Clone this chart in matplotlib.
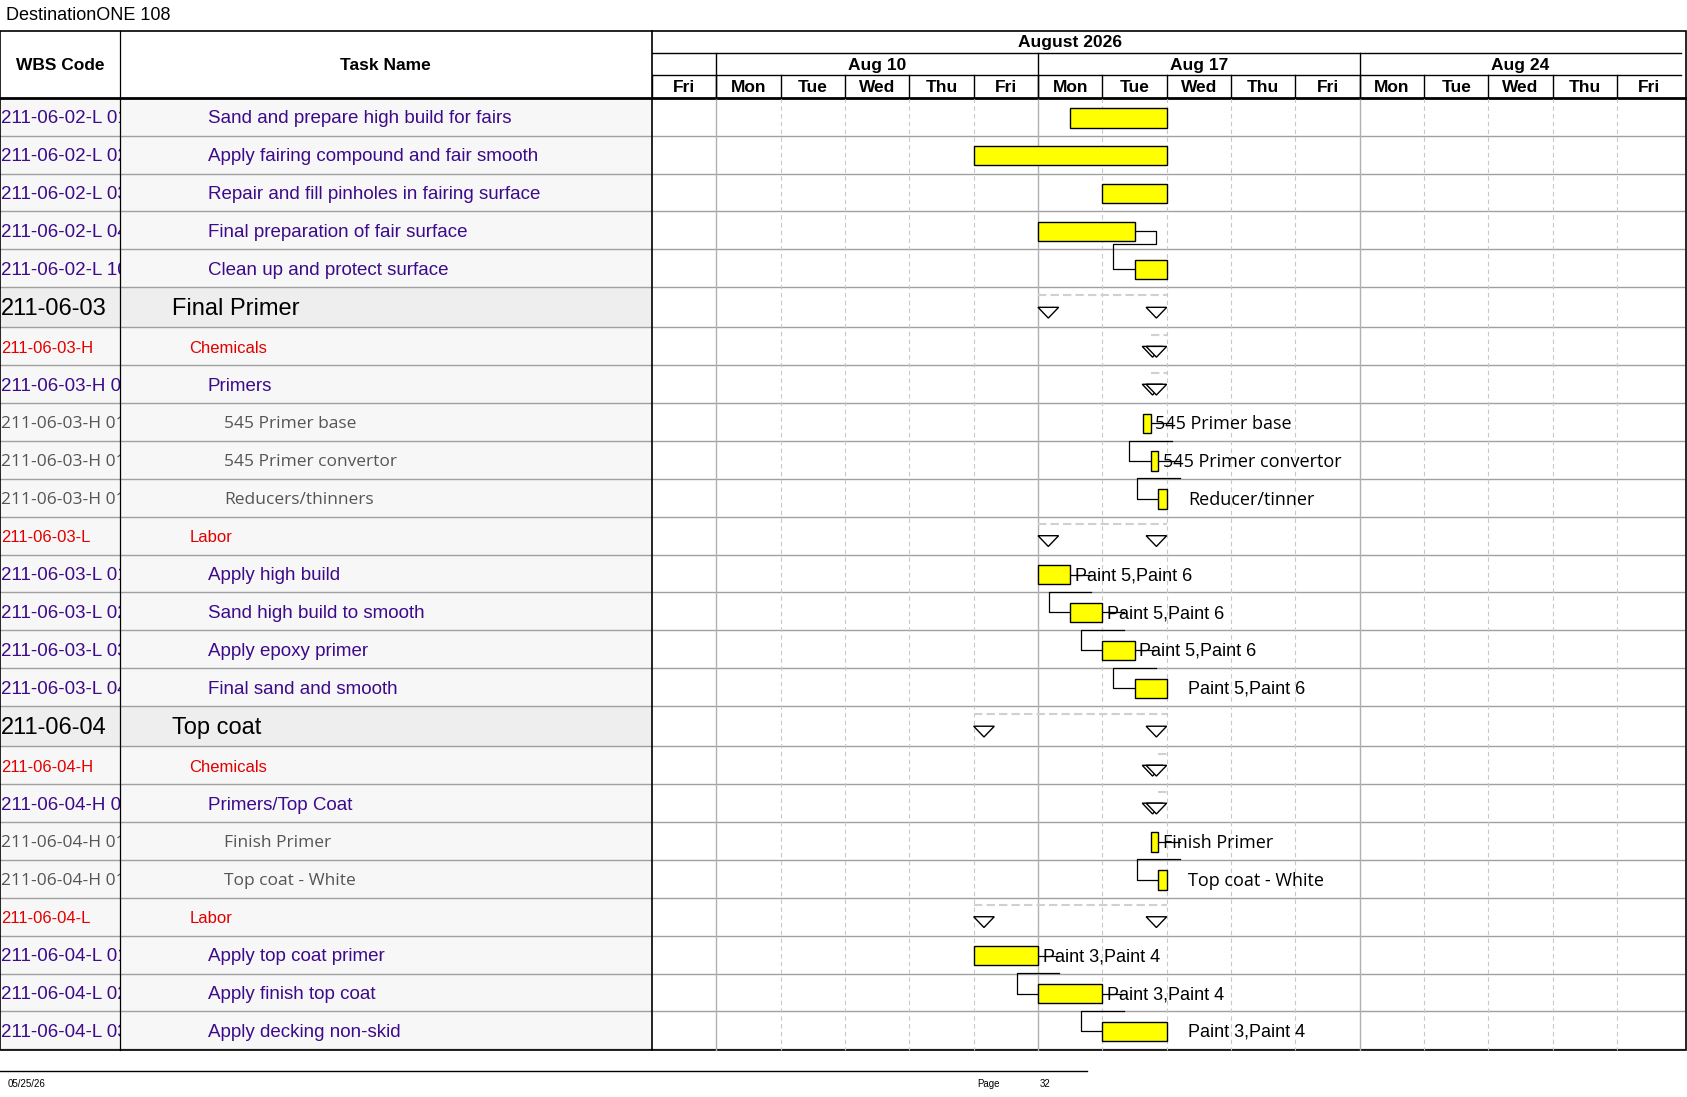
import matplotlib.pyplot as plt
from matplotlib.patches import Rectangle
from matplotlib.lines import Line2D

# ---- data ----
days = ["Fri", "Mon", "Tue", "Wed", "Thu", "Fri", "Mon", "Tue", "Wed", "Thu",
        "Fri", "Mon", "Tue", "Wed", "Thu", "Fri"]
weeks = [("Aug 10", 1, 6), ("Aug 17", 6, 11), ("Aug 24", 11, 16)]
month = "August 2026"

# kind: t=task, s=summary, c=red group, p=purple sub group, i=gray item
wbs = ["211-06-02-L 01", "211-06-02-L 02", "211-06-02-L 03", "211-06-02-L 04", "211-06-02-L 10",
       "211-06-03", "211-06-03-H", "211-06-03-H 01", "211-06-03-H 0101", "211-06-03-H 0102",
       "211-06-03-H 0103", "211-06-03-L", "211-06-03-L 01", "211-06-03-L 02", "211-06-03-L 03",
       "211-06-03-L 04", "211-06-04", "211-06-04-H", "211-06-04-H 01", "211-06-04-H 0101",
       "211-06-04-H 0102", "211-06-04-L", "211-06-04-L 01", "211-06-04-L 02", "211-06-04-L 03"]
names = ["Sand and prepare high build for fairs", "Apply fairing compound and fair smooth",
         "Repair and fill pinholes in fairing surface", "Final preparation of fair surface",
         "Clean up and protect surface", "Final Primer", "Chemicals", "Primers",
         "545 Primer base", "545 Primer convertor", "Reducers/thinners", "Labor",
         "Apply high build", "Sand high build to smooth", "Apply epoxy primer",
         "Final sand and smooth", "Top coat", "Chemicals", "Primers/Top Coat",
         "Finish Primer", "Top coat - White", "Labor", "Apply top coat primer",
         "Apply finish top coat", "Apply decking non-skid"]
kinds = ["t", "t", "t", "t", "t", "s", "c", "p", "i", "i", "i", "c", "t", "t", "t", "t",
         "s", "c", "p", "i", "i", "c", "t", "t", "t"]
# start / finish in working days from Fri Aug 7
starts = [6.5, 5, 7, 6, 7.5, 6, 7.75, 7.75, 7.63, 7.75, 7.87, 6, 6, 6.5, 7, 7.5,
          5, 7.87, 7.87, 7.75, 7.87, 5, 5, 6, 7]
ends = [8, 8, 8, 7.5, 8, 8, 8, 8, 7.75, 7.87, 8, 8, 6.5, 7, 7.5, 8,
        8, 8, 8, 7.87, 8, 8, 6, 7, 8]
labels = ["", "", "", "", "", "", "", "", "545 Primer base", "545 Primer convertor",
          "Reducer/tinner", "", "Paint 5,Paint 6", "Paint 5,Paint 6", "Paint 5,Paint 6",
          "Paint 5,Paint 6", "", "", "", "Finish Primer", "Top coat - White", "",
          "Paint 3,Paint 4", "Paint 3,Paint 4", "Paint 3,Paint 4"]
links = [(3, 4), (8, 9), (9, 10), (12, 13), (13, 14), (14, 15), (19, 20), (22, 23), (23, 24)]

# ---- layout (pixel units of a 1568x1020 canvas) ----
W, H = 1568, 1020
px = 59.8
g0 = 606
row_top = 91
heights = [37.5 if k == "s" else 35.2 for k in kinds]
tops = [row_top]
for h in heights:
    tops.append(tops[-1] + h)

fig = plt.figure(figsize=(16.87, 10.97), dpi=100)
ax = fig.add_axes([0, 0, 1, 1])
ax.set_xlim(0, W)
ax.set_ylim(H, 0)
ax.axis("off")
gx = fig.add_axes([g0 / W, 0, (1565 - g0) / W, 1])
gx.set_xlim(0, (1565 - g0) / px)
gx.set_ylim(H, 0)
gx.axis("off")

purple = "#3c0a8a"
ax.text(6, 14, "DestinationONE 108", fontsize=13, va="center", family="Liberation Sans")

has_succ = {a for a, b in links}

# row backgrounds + text
for i in range(len(names)):
    y0, y1 = tops[i], tops[i + 1]
    yc = (y0 + y1) / 2 + 2
    bg = "#eeeeee" if kinds[i] == "s" else "#f7f7f7"
    ax.add_patch(Rectangle((0, y0), g0, y1 - y0, color=bg, lw=0, zorder=0))
    # cover for WBS overflow
    ax.add_patch(Rectangle((112.5, y0), g0 - 112.5, y1 - y0, color=bg, lw=0, zorder=2))
    k = kinds[i]
    if k == "s":
        st = dict(color="black", fontsize=17, family="Liberation Sans"); x = 160
    elif k == "c":
        st = dict(color="#e00000", fontsize=12, family="Liberation Sans"); x = 176
    elif k == "i":
        st = dict(color="#555555", fontsize=12.5, family="Open Sans"); x = 208
    else:
        st = dict(color=purple, fontsize=13.5, family="Liberation Sans"); x = 193
    ax.text(1, yc, wbs[i], va="center", zorder=1, **st)
    ax.text(x, yc, names[i], va="center", zorder=3, **st)
    ax.add_line(Line2D([0, 1565], [y1, y1], color="#a0a0a0", lw=1, zorder=4))

# header
ax.add_patch(Rectangle((0, 29), 1567, 976 - 29, fill=False, ec="black", lw=1.2, zorder=5))
ax.plot([112, 112], [29, 976], color="black", lw=0.9, zorder=5)
ax.plot([g0, g0], [29, 976], color="black", lw=1.2, zorder=5)
ax.plot([0, 1567], [91, 91], color="black", lw=2, zorder=5)
ax.text(56, 61, "WBS Code", ha="center", va="center", fontsize=12.5, weight="bold", family="Liberation Sans")
ax.text(358, 61, "Task Name", ha="center", va="center", fontsize=12.5, weight="bold", family="Liberation Sans")
gx.plot([0, 16], [49, 49], color="black", lw=1)
gx.plot([0, 16], [70, 70], color="black", lw=1)
gx.text(6.5, 39.5, month, ha="center", va="center", fontsize=12.5, weight="bold", family="Liberation Sans")
for lab, a, b in weeks:
    gx.text((a + b) / 2, 60.5, lab, ha="center", va="center", fontsize=12.5, weight="bold", family="Liberation Sans")
    gx.plot([a, a], [49, 91], color="black", lw=1)
for d, lab in enumerate(days):
    gx.text(d + 0.5, 81.5, lab, ha="center", va="center", fontsize=12.5, weight="bold", family="Liberation Sans")
    gx.plot([d, d], [70, 91], color="black", lw=1)
    if d > 0:
        if lab == "Mon":
            gx.plot([d, d], [91, 976], color="#b0b0b0", lw=1, zorder=1)
        else:
            gx.plot([d, d], [91, 976], color="#c8c8c8", lw=0.8, ls=(0, (4, 3)), zorder=1)

# bars, summaries, labels
tri = 0.32
for i in range(len(names)):
    y0, y1 = tops[i], tops[i + 1]
    yc = (y0 + y1) / 2 + 1
    s, e = starts[i], ends[i]
    if kinds[i] in ("t", "i"):
        gx.add_patch(Rectangle((s, yc - 9), e - s, 18, fc="#ffff00", ec="black", lw=1, zorder=4))
        if labels[i]:
            if i in has_succ:
                lx = e + 0.05
                gx.text(lx + 0.02, yc + 1, labels[i], va="center", fontsize=13, zorder=4,
                        family="Open Sans" if kinds[i] == "i" else "Liberation Sans")
            else:
                gx.text(e + 0.33, yc + 1, labels[i], va="center", fontsize=13, zorder=4,
                        family="Open Sans" if kinds[i] == "i" else "Liberation Sans")
    else:
        gx.plot([s, e], [y0 + 7, y0 + 7], color="#d0d0d0", lw=1.5, ls=(0, (4, 2)), zorder=2)
        ty = yc + 4
        xs = [s, e - tri] if e - s > tri * 1.5 else [e - tri - 0.06, e - tri]
        for xx in xs:
            gx.fill([xx, xx + tri, xx + tri / 2, xx], [ty - 5, ty - 5, ty + 5, ty - 5],
                    fc="white", ec="black", lw=1, zorder=3)

# links
for a, b in links:
    ya = (tops[a] + tops[a + 1]) / 2 + 1
    yb = (tops[b] + tops[b + 1]) / 2 + 1
    xa, xb = ends[a], starts[b]
    if labels[a]:
        out = xa + 0.33
        mid = tops[a + 1] - 0.5
    else:
        out = xa + 0.33
        mid = ya + 12
    back = xb - 0.33
    if labels[a]:
        gx.plot([xa, out], [ya, ya], color="black", lw=0.9, zorder=3)
        gx.plot([out, out, back, back, xb], [mid, mid, mid, yb, yb], color="black", lw=0.9, zorder=3)
    else:
        gx.plot([xa, out, out, back, back, xb], [ya, ya, mid, mid, yb, yb], color="black", lw=0.9, zorder=3)

# footer
ax.plot([0, 1010], [996, 996], color="black", lw=1)
ax.text(7, 1008, "05/25/26", fontsize=7, va="center", family="Liberation Sans")
ax.text(908, 1008, "Page", fontsize=7, va="center", family="Liberation Sans")
ax.text(966, 1008, "32", fontsize=7, va="center", family="Liberation Sans")

fig.savefig("out.png", dpi=100)
